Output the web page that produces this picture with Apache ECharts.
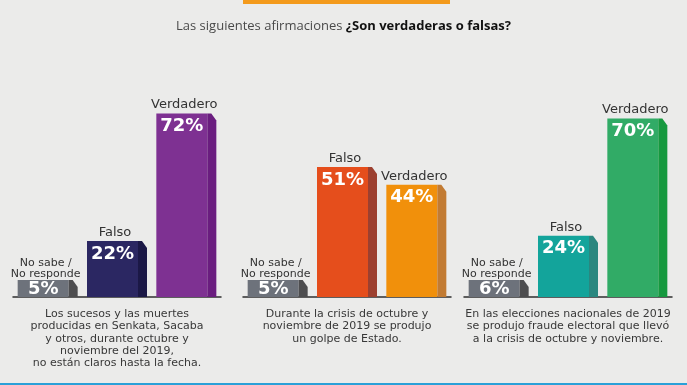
<!DOCTYPE html>
<html>
<head>
<meta charset="utf-8">
<script src="https://cdn.jsdelivr.net/npm/echarts@6/dist/echarts.min.js"></script>
<style>
html,body{margin:0;padding:0;background:#ebebea;}
#c{width:687px;height:385px;}
</style>
</head>
<body>
<div id="c"></div>
<script>
// ---- data ----
const titleNormal = 'Las siguientes afirmaciones ';
const titleBold = '¿Son verdaderas o falsas?';
const categories = ['No sabe /\nNo responde', 'Falso', 'Verdadero'];
const statements = [
  'Los sucesos y las muertes\nproducidas en Senkata, Sacaba\ny otros, durante octubre y\nnoviembre del 2019,\nno están claros hasta la fecha.',
  'Durante la crisis de octubre y\nnoviembre de 2019 se produjo\nun golpe de Estado.',
  'En las elecciones nacionales de 2019\nse produjo fraude electoral que llevó\na la crisis de octubre y noviembre.'
];
const values1 = [5, 22, 72];
const values2 = [5, 51, 44];
const values3 = [6, 24, 70];

// ---- styles ----
const frontColors = [
  ['#6d727b', '#2b2762', '#7e3192'],
  ['#6d727b', '#e54e1c', '#f1900b'],
  ['#6d727b', '#13a49b', '#31ab66']
];
const sideColors = [
  ['#4d4d4f', '#1b1846', '#6a1d7f'],
  ['#4d4d4f', '#9c4030', '#c27b33'],
  ['#4d4d4f', '#2a877f', '#16993f']
];
const FONT = '"DejaVu Sans", sans-serif';
const gridLefts = [13, 243, 464];
const allValues = [values1, values2, values3];

function makeRender(g) {
  return function (params, api) {
    const i = api.value(0), v = api.value(1);
    const base = api.coord([i, 0]);
    const topPt = api.coord([i, v]);
    const cx = base[0];
    const h = Math.max(base[1] - topPt[1], 17);
    const top = base[1] - h;
    const left = cx - 30, fr = cx + 21, right = cx + 30;
    const pctY = top + Math.min(13, h / 2 + 1);
    const small = i === 0;
    return {
      type: 'group',
      children: [
        {type: 'rect', shape: {x: left, y: top, width: fr - left, height: h},
         style: {fill: frontColors[g][i]}},
        {type: 'polygon', shape: {points: [[fr, top], [fr + 4, top], [right, top + 7], [right, base[1]], [fr, base[1]]]},
         style: {fill: sideColors[g][i]}},
        {type: 'text', style: {text: api.value(1) + '%', x: (left + fr) / 2, y: pctY,
          align: 'center', verticalAlign: 'middle', fill: '#ffffff',
          font: 'bold 18px ' + FONT}},
        {type: 'text', style: {text: categories[i], x: cx - 2, y: top - (small ? 1 : 2),
          align: 'center', verticalAlign: 'bottom', fill: '#333333',
          font: (small ? '11px ' : '13px ') + FONT, lineHeight: small ? 10.5 : 13}}
      ]
    };
  };
}

const grids = [], xAxes = [], yAxes = [], series = [];
for (let g = 0; g < 3; g++) {
  grids.push({left: gridLefts[g], width: 208, top: 42, bottom: 88});
  xAxes.push({
    type: 'category', gridIndex: g, data: categories, offset: 6,
    axisLine: {lineStyle: {color: '#2f2f2f', width: 1.5}},
    axisTick: {show: false}, axisLabel: {show: false},
    name: statements[g], nameLocation: 'middle', nameGap: 5,
    nameTextStyle: {color: '#383838', fontFamily: FONT, fontSize: 11, lineHeight: 12.3, verticalAlign: 'top', align: 'center'}
  });
  yAxes.push({type: 'value', gridIndex: g, min: 0, max: 100, show: false, splitLine: {show: false}});
  series.push({
    type: 'custom', xAxisIndex: g, yAxisIndex: g,
    renderItem: makeRender(g),
    data: allValues[g].map((v, i) => [i, v])
  });
}

const chart = echarts.init(document.getElementById('c'), null, {renderer: 'canvas'});
chart.setOption({
  backgroundColor: '#ebebea',
  animation: false,
  title: {
    text: '{a|' + titleNormal + '}{b|' + titleBold + '}',
    left: 'center', top: 15,
    textStyle: {
      fontWeight: 'normal',
      rich: {
        a: {fontFamily: '"Open Sans", sans-serif', fontSize: 13, fontWeight: 'normal', color: '#4a4a4a'},
        b: {fontFamily: '"Open Sans", sans-serif', fontSize: 13, fontWeight: 'bold', color: '#111111'}
      }
    }
  },
  graphic: [
    {type: 'rect', left: 243, top: 0, shape: {width: 207, height: 4}, style: {fill: '#f39a1c'}},
    {type: 'rect', left: 0, top: 383, shape: {width: 687, height: 2}, style: {fill: '#2aa0d8'}}
  ],
  grid: grids, xAxis: xAxes, yAxis: yAxes, series: series
});
</script>
</body>
</html>
